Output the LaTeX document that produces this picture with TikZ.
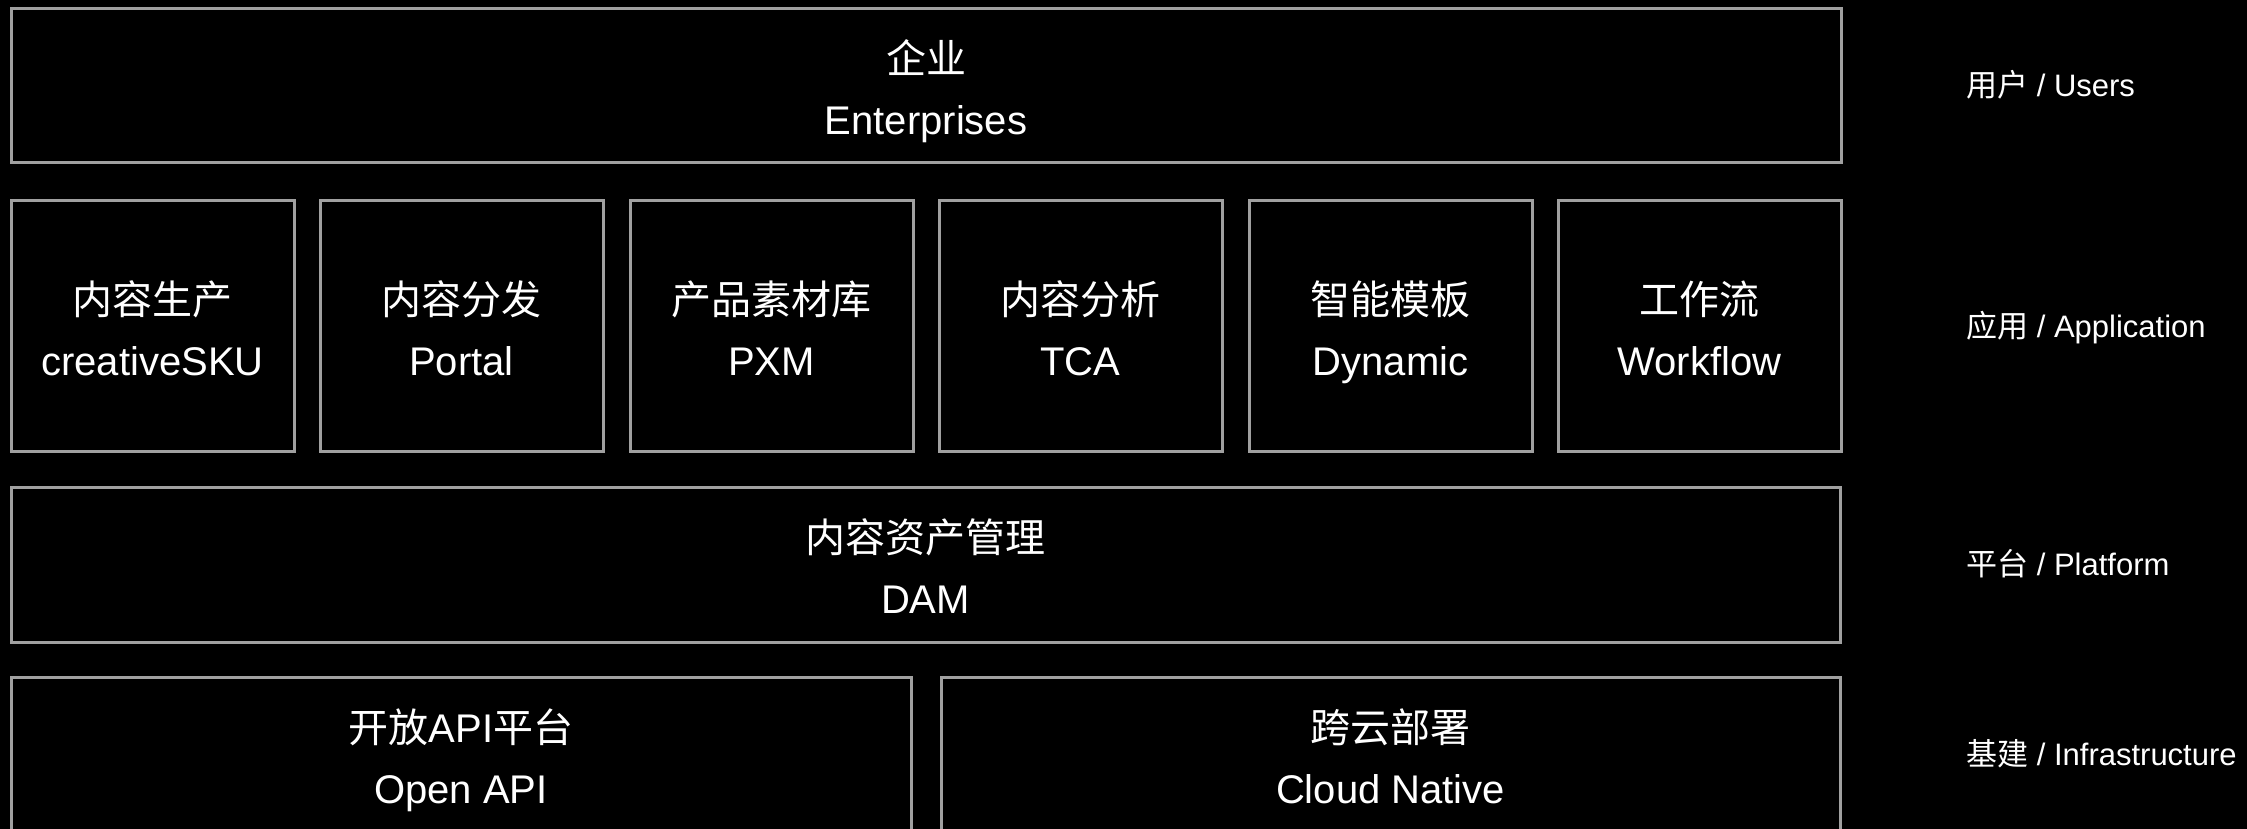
\documentclass[tikz,border=0pt]{standalone}
\usepackage{fontspec}
\setmainfont{Liberation Sans}
\newfontfamily\cjk{Noto Sans CJK SC}
\begin{document}
\begin{tikzpicture}[x=1pt,y=-1pt,
  box/.style={draw=boxgray, line width=3pt, inner sep=0pt, outer sep=0pt},
  zh/.style={text=white, inner sep=0pt, anchor=base, font=\cjk\fontsize{40}{48}\selectfont},
  en/.style={text=white, inner sep=0pt, anchor=base, font=\fontsize{40}{48}\selectfont},
  lab/.style={text=white, inner sep=0pt, anchor=base west, font=\fontsize{31}{37}\selectfont}]
\definecolor{boxgray}{HTML}{A0A0A0}
\fill[black] (0,0) rectangle (2247,829);
\useasboundingbox (0,0) rectangle (2247,829);
\clip (0,0) rectangle (2247,829);
% users
\node[box, minimum width=1830pt, minimum height=154pt] (ent) at (926,86) {};
\node[zh] (entzh) at ([yshift=12pt]ent.center) {企业};
\node[en] (enten) at ([yshift=-49pt]ent.center) {Enterprises};
% applications
\node[box, minimum width=283pt, minimum height=250pt] (a1) at (152.5,326) {};
\node[box, minimum width=283pt, minimum height=250pt] (a2) at (461.5,326) {};
\node[box, minimum width=283pt, minimum height=250pt] (a3) at (771.5,326) {};
\node[box, minimum width=283pt, minimum height=250pt] (a4) at (1080.5,326) {};
\node[box, minimum width=283pt, minimum height=250pt] (a5) at (1390.5,326) {};
\node[box, minimum width=283pt, minimum height=250pt] (a6) at (1699.5,326) {};
\node[zh] (a1zh) at ([yshift=12pt]a1.center) {内容生产};
\node[en] (a1en) at ([yshift=-49pt]a1.center) {creativeSKU};
\node[zh] (a2zh) at ([yshift=12pt]a2.center) {内容分发};
\node[en] (a2en) at ([yshift=-49pt]a2.center) {Portal};
\node[zh] (a3zh) at ([yshift=12pt]a3.center) {产品素材库};
\node[en] (a3en) at ([yshift=-49pt]a3.center) {PXM};
\node[zh] (a4zh) at ([yshift=12pt]a4.center) {内容分析};
\node[en] (a4en) at ([yshift=-49pt]a4.center) {TCA};
\node[zh] (a5zh) at ([yshift=12pt]a5.center) {智能模板};
\node[en] (a5en) at ([yshift=-49pt]a5.center) {Dynamic};
\node[zh] (a6zh) at ([yshift=12pt]a6.center) {工作流};
\node[en] (a6en) at ([yshift=-49pt]a6.center) {Workflow};
% platform
\node[box, minimum width=1829pt, minimum height=155pt] (dam) at (925.5,564.5) {};
\node[zh] (damzh) at ([yshift=12pt]dam.center) {内容资产管理};
\node[en] (damen) at ([yshift=-49pt]dam.center) {DAM};
% infrastructure
\node[box, minimum width=900pt, minimum height=155pt] (api) at (461,754.5) {};
\node[box, minimum width=899pt, minimum height=155pt] (cloud) at (1390.5,754.5) {};
\node[en] (apizh) at ([yshift=12pt]api.center) {{\cjk 开放}API{\cjk 平台}};
\node[en] (apien) at ([yshift=-49pt]api.center) {Open API};
\node[zh] (cloudzh) at ([yshift=12pt]cloud.center) {跨云部署};
\node[en] (clouden) at ([yshift=-49pt]cloud.center) {Cloud Native};
% layer labels
\node[lab] (l1) at (1966,97) {{\cjk 用户} / Users};
\node[lab] (l2) at (1966,337) {{\cjk 应用} / Application};
\node[lab] (l3) at (1966,575) {{\cjk 平台} / Platform};
\node[lab] (l4) at (1966,765) {{\cjk 基建} / Infrastructure};
\end{tikzpicture}
\end{document}
